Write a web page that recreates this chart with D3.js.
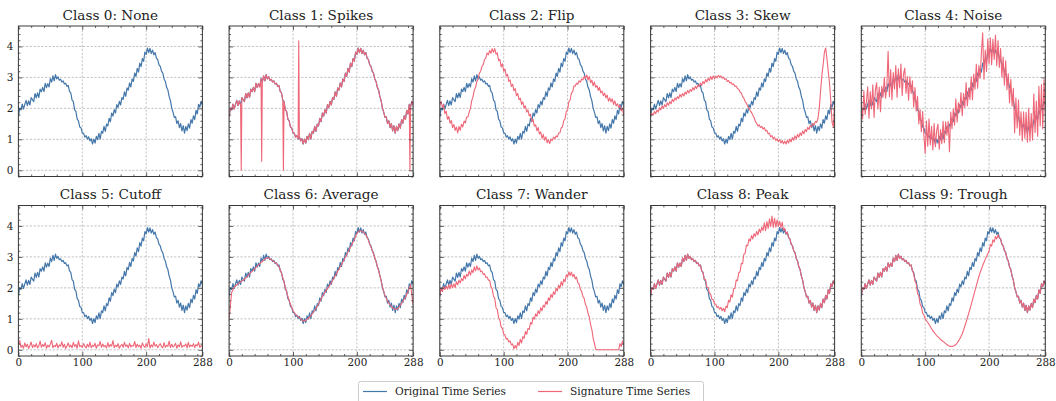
<!DOCTYPE html>
<html><head><meta charset="utf-8">
<script src="https://cdn.jsdelivr.net/npm/d3@7"></script>
<style>
body{margin:0;background:#fff}
svg{display:block}
text{font-family:"DejaVu Serif","Liberation Serif",serif;fill:#222}
</style>
</head><body>
<svg id="c" width="1056" height="401"></svg>
<script>
// ---------------- data ----------------
const titles = ["Class 0: None","Class 1: Spikes","Class 2: Flip","Class 3: Skew","Class 4: Noise",
                "Class 5: Cutoff","Class 6: Average","Class 7: Wander","Class 8: Peak","Class 9: Trough"];
const xTicks = [0,100,200,288];
const xMinor = [20,40,60,80,120,140,160,180,220,240,260,280];
const yTicks = [0,1,2,3,4];
const seriesNames = ["Original Time Series","Signature Time Series"];
const xMax = 288;

// original series, sampled every 2 steps (0..288)
const original = [1.72,2.01,1.95,2.14,1.98,2.13,2.26,2.09,2.24,2.11,2.35,2.28,2.22,2.48,2.34,2.50,2.35,2.62,2.54,2.68,
2.54,2.81,2.67,2.80,2.69,2.96,2.85,3.05,2.89,3.09,2.95,3.02,2.91,2.94,2.85,2.89,2.79,2.81,2.71,2.74,
2.55,2.50,2.27,2.22,1.95,1.90,1.65,1.60,1.40,1.37,1.21,1.20,1.07,1.12,1.01,1.08,0.95,1.02,0.85,1.01,
0.88,1.10,0.99,1.19,1.01,1.26,1.20,1.42,1.26,1.49,1.43,1.68,1.57,1.85,1.75,1.96,1.85,2.12,2.03,2.23,
2.11,2.35,2.29,2.53,2.39,2.66,2.59,2.82,2.69,2.95,2.87,3.14,3.03,3.29,3.17,3.46,3.35,3.61,3.52,3.82,
3.74,3.95,3.80,3.94,3.77,3.88,3.73,3.80,3.62,3.58,3.41,3.36,3.20,3.14,2.95,2.87,2.68,2.59,2.38,2.25,
2.01,1.88,1.71,1.73,1.51,1.60,1.38,1.51,1.27,1.44,1.20,1.42,1.28,1.50,1.36,1.64,1.52,1.76,1.64,1.94,
1.82,2.13,2.04,2.23,2.10];

// Class 0: no signature drawn
const sigNone = [];
// Class 1: spike points [time, value] laid over the original
const spikePoints = [[19,0.00],[51,0.29],[85,0.00],[109,4.18],[283,0.00]];
// Class 2
const sigFlip = [2.10,2.23,2.04,2.12,1.83,1.91,1.65,1.74,1.52,1.61,1.38,1.48,1.29,1.40,1.21,1.42,1.29,1.49,1.40,1.59,
1.53,1.72,1.72,1.88,2.01,2.25,2.38,2.59,2.68,2.87,2.95,3.14,3.20,3.36,3.41,3.58,3.62,3.79,3.73,3.87,
3.78,3.93,3.81,3.93,3.75,3.79,3.54,3.58,3.34,3.44,3.20,3.27,3.04,3.10,2.87,2.92,2.71,2.78,2.57,2.64,
2.41,2.48,2.28,2.33,2.13,2.21,2.01,2.08,1.88,1.95,1.76,1.81,1.58,1.64,1.43,1.47,1.28,1.38,1.17,1.24,
1.03,1.16,0.97,1.08,0.89,0.99,0.86,1.01,0.96,1.07,1.02,1.11,1.08,1.20,1.21,1.37,1.40,1.60,1.66,1.90,
1.94,2.22,2.27,2.49,2.54,2.73,2.72,2.81,2.78,2.89,2.85,2.95,2.92,3.03,2.96,3.08,2.91,3.03,2.83,2.91,
2.73,2.85,2.68,2.74,2.58,2.68,2.50,2.56,2.41,2.49,2.34,2.43,2.23,2.34,2.21,2.31,2.13,2.24,2.08,2.15,
2.03,2.10,1.92,2.01,1.75];
// Class 3
const sigSkew = [1.75,1.84,1.78,1.90,1.83,1.95,1.88,2.02,1.95,2.08,2.00,2.12,2.05,2.18,2.10,2.22,2.15,2.29,2.22,2.34,
2.27,2.38,2.32,2.45,2.37,2.48,2.40,2.53,2.46,2.58,2.50,2.61,2.55,2.67,2.59,2.71,2.64,2.76,2.70,2.82,
2.74,2.87,2.80,2.93,2.85,2.97,2.90,3.03,2.93,3.05,2.96,3.04,2.98,3.07,3.01,3.05,2.97,3.01,2.93,2.96,
2.87,2.90,2.82,2.84,2.77,2.79,2.71,2.72,2.64,2.62,2.53,2.50,2.38,2.33,2.22,2.17,2.06,2.01,1.92,1.87,
1.78,1.70,1.58,1.52,1.43,1.47,1.38,1.42,1.33,1.38,1.27,1.29,1.18,1.20,1.08,1.12,1.02,1.07,0.96,1.02,
0.92,0.99,0.88,0.96,0.86,0.94,0.85,0.97,0.88,1.01,0.92,1.06,0.97,1.11,1.02,1.16,1.07,1.21,1.12,1.27,
1.18,1.32,1.25,1.39,1.32,1.45,1.40,1.51,1.46,1.58,1.55,1.68,2.00,2.55,3.05,3.40,3.80,3.95,3.62,3.20,
2.82,2.25,1.55,1.40,2.20];
// Class 4
const sigNoise = [2.15,1.66,2.57,1.80,2.23,2.70,1.68,2.54,1.98,2.76,1.71,2.59,2.83,1.98,2.69,1.89,2.71,2.36,3.00,2.33,
2.73,3.84,2.38,3.25,2.28,3.16,2.63,3.38,2.36,3.28,2.66,3.43,2.42,3.10,3.30,2.49,3.03,2.26,3.02,2.48,
2.89,2.04,2.67,1.92,2.39,1.50,1.96,1.25,1.90,1.12,0.55,1.60,0.78,1.66,0.82,1.42,0.66,1.51,0.76,1.29,
1.49,0.68,1.32,0.86,1.58,0.89,1.57,1.13,1.58,0.60,1.88,1.34,1.98,1.46,2.31,1.55,2.18,1.88,2.51,1.76,
2.48,2.03,2.83,2.08,2.66,2.29,3.02,2.28,3.11,2.62,3.42,2.65,3.39,2.97,3.80,4.44,2.94,3.88,3.19,4.24,
3.45,4.28,3.41,4.23,3.58,4.37,3.38,4.19,3.32,3.93,3.01,3.66,2.75,3.54,2.60,3.12,2.18,2.94,2.08,2.65,
1.21,2.33,1.37,2.27,1.13,1.89,0.95,1.89,1.04,1.87,0.91,2.00,0.94,1.83,0.98,2.46,1.22,2.24,1.10,2.71,
1.43,2.77,1.34,2.93,1.80];
// Class 5
const sigCutoff = [0.12,0.30,0.08,0.15,0.05,0.22,0.10,0.18,0.04,0.14,0.25,0.07,0.16,0.09,0.20,0.06,0.13,0.28,0.08,0.17,
0.11,0.23,0.05,0.15,0.09,0.19,0.31,0.07,0.14,0.10,0.21,0.06,0.16,0.12,0.26,0.08,0.18,0.04,0.13,0.22,
0.09,0.15,0.07,0.24,0.11,0.17,0.05,0.29,0.10,0.14,0.08,0.20,0.12,0.06,0.18,0.09,0.25,0.07,0.15,0.11,
0.21,0.05,0.16,0.13,0.27,0.08,0.19,0.10,0.14,0.06,0.23,0.09,0.17,0.12,0.30,0.07,0.15,0.10,0.20,0.05,
0.13,0.18,0.08,0.24,0.11,0.16,0.06,0.21,0.09,0.14,0.12,0.27,0.07,0.18,0.10,0.15,0.05,0.22,0.13,0.08,
0.19,0.11,0.36,0.06,0.16,0.09,0.25,0.12,0.17,0.07,0.14,0.20,0.10,0.06,0.23,0.08,0.15,0.11,0.28,0.07,
0.18,0.09,0.13,0.21,0.05,0.16,0.10,0.26,0.08,0.14,0.12,0.19,0.06,0.24,0.09,0.15,0.11,0.20,0.07,0.17,
0.13,0.25,0.08,0.14,0.10];
// Class 6, sampled every 4 steps
const sigAverage = [1.00,1.85,2.02,2.10,2.16,2.22,2.28,2.36,2.45,2.53,2.62,2.70,2.78,2.86,2.93,2.98,2.94,2.88,2.82,2.75,
2.60,2.34,2.02,1.72,1.47,1.27,1.14,1.07,1.00,0.92,0.95,1.02,1.10,1.22,1.34,1.48,1.64,1.80,1.92,2.04,
2.17,2.31,2.46,2.61,2.76,2.91,3.08,3.24,3.39,3.57,3.76,3.85,3.83,3.77,3.64,3.43,3.21,2.98,2.70,2.40,
2.04,1.75,1.57,1.45,1.36,1.30,1.33,1.44,1.57,1.70,1.88,2.10,1.45];
// Class 7
const sigWander = [1.75,1.99,1.88,2.04,1.95,2.05,1.96,2.10,1.97,2.13,2.01,2.13,2.01,2.20,2.10,2.25,2.16,2.30,2.23,2.40,
2.29,2.44,2.38,2.54,2.41,2.58,2.49,2.68,2.55,2.71,2.58,2.64,2.52,2.54,2.43,2.46,2.34,2.35,2.25,2.25,
2.04,1.97,1.73,1.66,1.36,1.30,1.04,0.96,0.74,0.69,0.51,0.48,0.35,0.36,0.25,0.29,0.16,0.19,0.03,0.14,
0.05,0.24,0.14,0.34,0.22,0.43,0.37,0.59,0.50,0.69,0.66,0.88,0.83,1.05,0.99,1.16,1.08,1.26,1.17,1.36,
1.26,1.44,1.38,1.56,1.47,1.68,1.60,1.79,1.69,1.87,1.79,1.99,1.90,2.09,1.99,2.20,2.07,2.28,2.20,2.42,
2.35,2.52,2.40,2.51,2.36,2.44,2.29,2.35,2.17,2.12,1.95,1.89,1.72,1.66,1.46,1.38,1.18,1.06,0.81,0.65,
0.38,0.21,0.02,0.00,0.00,0.00,0.00,0.00,0.00,0.00,0.00,0.00,0.00,0.00,0.00,0.00,0.00,0.00,0.00,0.00,
0.00,0.20,0.11,0.29,0.15];
// Class 8
const sigPeak = [1.72,2.01,1.95,2.14,1.98,2.13,2.26,2.09,2.24,2.11,2.35,2.28,2.22,2.48,2.34,2.50,2.35,2.62,2.54,2.68,
2.54,2.81,2.67,2.80,2.69,2.96,2.85,3.05,2.89,3.09,2.95,3.02,2.91,2.94,2.85,2.89,2.79,2.81,2.71,2.74,
2.55,2.50,2.27,2.27,2.02,2.02,1.82,1.80,1.63,1.62,1.48,1.48,1.36,1.40,1.31,1.37,1.26,1.34,1.23,1.41,
1.36,1.60,1.54,1.78,1.70,1.98,1.98,2.26,2.23,2.49,2.52,2.79,2.78,3.09,3.12,3.38,3.36,3.58,3.51,3.69,
3.58,3.75,3.66,3.82,3.71,3.90,3.79,3.96,3.85,4.10,3.85,4.14,3.92,4.23,3.98,4.32,3.95,4.25,3.96,4.20,
3.98,4.15,3.95,4.12,3.86,3.92,3.75,3.80,3.62,3.58,3.41,3.36,3.20,3.14,2.95,2.87,2.68,2.59,2.38,2.25,
2.01,1.88,1.71,1.73,1.51,1.60,1.38,1.51,1.27,1.44,1.20,1.42,1.28,1.50,1.36,1.64,1.52,1.76,1.64,1.94,
1.82,2.13,2.04,2.23,2.10];
// Class 9
const sigTrough = [1.72,2.01,1.95,2.14,1.98,2.13,2.26,2.09,2.24,2.11,2.35,2.28,2.22,2.48,2.34,2.50,2.35,2.62,2.54,2.68,
2.54,2.81,2.67,2.80,2.69,2.96,2.85,3.05,2.89,3.09,2.95,3.02,2.91,2.94,2.85,2.89,2.79,2.81,2.71,2.74,
2.55,2.46,2.22,2.13,1.82,1.75,1.48,1.40,1.18,1.13,1.00,0.94,0.88,0.82,0.75,0.68,0.62,0.56,0.51,0.46,
0.42,0.38,0.34,0.30,0.27,0.24,0.20,0.17,0.14,0.12,0.11,0.11,0.12,0.14,0.17,0.22,0.28,0.35,0.43,0.52,
0.63,0.76,0.89,1.03,1.17,1.31,1.46,1.61,1.76,1.92,2.07,2.22,2.36,2.49,2.61,2.72,2.82,2.92,3.01,3.10,
3.19,3.40,3.35,3.55,3.48,3.66,3.58,3.72,3.62,3.58,3.41,3.36,3.20,3.14,2.95,2.87,2.68,2.59,2.38,2.25,
2.01,1.88,1.71,1.73,1.51,1.60,1.38,1.51,1.27,1.44,1.20,1.42,1.28,1.50,1.36,1.64,1.52,1.76,1.64,1.94,
1.82,2.13,2.04,2.23,2.10];

// ---------------- helpers ----------------
function toPoints(arr){ const n = arr.length; return arr.map((v,i)=>[i*xMax/(n-1), v]); }
function withSpikes(arr, spikes){
  const pts = toPoints(arr).concat(spikes.map(s=>[s[0], s[1]]));
  return pts.sort((a,b)=>a[0]-b[0]);
}
const signatures = [
  toPoints(sigNone), withSpikes(original, spikePoints), toPoints(sigFlip), toPoints(sigSkew), toPoints(sigNoise),
  toPoints(sigCutoff), toPoints(sigAverage), toPoints(sigWander), toPoints(sigPeak), toPoints(sigTrough)
];
const origPts = toPoints(original);

// ---------------- layout ----------------
const FONT = '"DejaVu Serif","Liberation Serif",serif';
const BLUE = "#4477AA", RED = "#EE6677", FRAME = "#3a3a3a", GRID = "#a8a8a8";
const svg = d3.select("#c");
const W = 184, H = 150.5;
const lefts = [18.4, 229.1, 439.8, 650.6, 861.3];
const tops = [26, 205.5];

for (let k = 0; k < 10; k++){
  const r = Math.floor(k/5), c = k % 5;
  const L = lefts[c], T = tops[r];
  const x = d3.scaleLinear().domain([0, xMax]).range([L, L+W]);
  const y = d3.scaleLinear().domain([-0.2, 4.66]).range([T+H, T]);
  const g = svg.append("g");

  // grid
  g.selectAll(".gx").data(xTicks).enter().append("line")
    .attr("x1", d=>x(d)).attr("x2", d=>x(d)).attr("y1", T).attr("y2", T+H)
    .attr("stroke", GRID).attr("stroke-width", 0.7).attr("stroke-dasharray", "2.2,1.6");
  g.selectAll(".gy").data(yTicks).enter().append("line")
    .attr("x1", L).attr("x2", L+W).attr("y1", d=>y(d)).attr("y2", d=>y(d))
    .attr("stroke", GRID).attr("stroke-width", 0.7).attr("stroke-dasharray", "2.2,1.6");

  // clip
  const cid = "clip"+k;
  svg.append("clipPath").attr("id", cid).append("rect").attr("x", L).attr("y", T).attr("width", W).attr("height", H);

  const line = d3.line().x(d=>x(d[0])).y(d=>y(d[1]));
  g.append("path").datum(origPts).attr("d", line).attr("fill","none")
    .attr("stroke", BLUE).attr("stroke-width", 1.2).attr("stroke-linejoin","round")
    .attr("clip-path", `url(#${cid})`);
  if (signatures[k].length){
    g.append("path").datum(signatures[k]).attr("d", line).attr("fill","none")
      .attr("stroke", RED).attr("stroke-width", 1.1).attr("stroke-linejoin","round")
      .attr("clip-path", `url(#${cid})`);
  }

  // axes (inward ticks on all sides)
  const yMinor = d3.range(-0.2, 4.61, 0.2).map(v=>+v.toFixed(1)).filter(v=>!yTicks.includes(v));
  const showY = c === 0, showX = r === 1;
  const axL = d3.axisLeft(y).tickValues(yTicks).tickSize(-4).tickPadding(5)
      .tickFormat(showY ? d3.format("d") : "");
  const axLm = d3.axisLeft(y).tickValues(yMinor).tickSize(-2).tickFormat("");
  const axR = d3.axisRight(y).tickValues(yTicks).tickSize(-4).tickFormat("");
  const axRm = d3.axisRight(y).tickValues(yMinor).tickSize(-2).tickFormat("");
  const axB = d3.axisBottom(x).tickValues(xTicks).tickSize(-4).tickPadding(3)
      .tickFormat(showX ? d3.format("d") : "");
  const axBm = d3.axisBottom(x).tickValues(xMinor).tickSize(-2).tickFormat("");
  const axT = d3.axisTop(x).tickValues(xTicks).tickSize(-4).tickFormat("");
  const axTm = d3.axisTop(x).tickValues(xMinor).tickSize(-2).tickFormat("");

  const put = (ax, tx, ty) => {
    const a = g.append("g").attr("transform", `translate(${tx},${ty})`).call(ax);
    a.attr("font-family", FONT);
    a.select(".domain").remove();
    a.selectAll("line").attr("stroke", FRAME).attr("stroke-width", 0.8);
    a.selectAll("text").style("font-family", FONT).attr("font-size", 10.4).attr("fill", "#222");
    return a;
  };
  put(axL, L, 0); put(axLm, L, 0); put(axR, L+W, 0); put(axRm, L+W, 0);
  put(axB, 0, T+H); put(axBm, 0, T+H); put(axT, 0, T); put(axTm, 0, T);

  g.append("rect").attr("x", L).attr("y", T).attr("width", W).attr("height", H)
    .attr("fill","none").attr("stroke", FRAME).attr("stroke-width", 1);

  g.append("text").attr("x", L + W/2).attr("y", T - 6.5).attr("text-anchor","middle")
    .style("font-family", FONT).attr("font-size", 13.6).text(titles[k]);
}

// legend
const lg = svg.append("g");
lg.append("rect").attr("x", 358.5).attr("y", 381.5).attr("width", 345).attr("height", 24)
  .attr("fill","#fff").attr("stroke","#cccccc").attr("stroke-width",1).attr("rx",2);
const legendItems = [
  {name: seriesNames[0], color: BLUE, x0: 363},
  {name: seriesNames[1], color: RED, x0: 538}
];
legendItems.forEach(it=>{
  lg.append("line").attr("x1", it.x0).attr("x2", it.x0+24).attr("y1", 391.5).attr("y2", 391.5)
    .attr("stroke", it.color).attr("stroke-width", 1.2);
  lg.append("text").attr("x", it.x0+32).attr("y", 395.3).style("font-family", FONT)
    .attr("font-size", 10.6).text(it.name);
});
</script>
</body></html>
